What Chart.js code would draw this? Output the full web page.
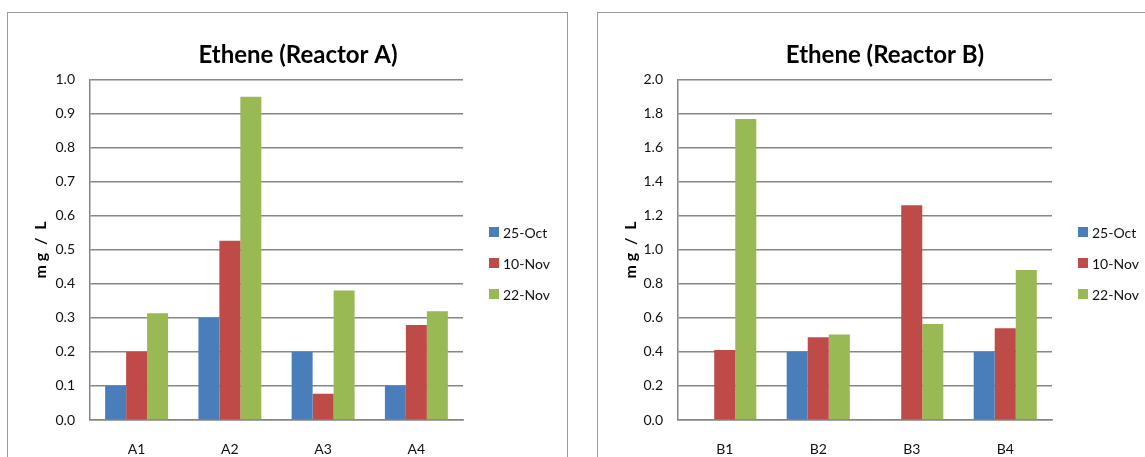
<!DOCTYPE html>
<html>
<head>
<meta charset="utf-8">
<title>Ethene</title>
<script src="https://cdn.jsdelivr.net/npm/chart.js@4.4.1/dist/chart.umd.min.js"></script>
<style>
  html, body { margin: 0; padding: 0; background: #fff; width: 1145px; height: 457px; overflow: hidden; }
  .frame { position: absolute; top: 12px; height: 470px; border: 1.5px solid #9a9a9a; box-sizing: border-box; }
  #frameA { left: 7px; width: 561px; }
  #frameB { left: 597px; width: 600px; }
  canvas { position: absolute; top: 0; }
  #chartA { left: 7px; }
  #chartB { left: 597px; }
</style>
</head>
<body>
<div class="frame" id="frameA"></div>
<div class="frame" id="frameB"></div>
<canvas id="chartA" width="582" height="457" style="width:582px;height:457px"></canvas>
<canvas id="chartB" width="576" height="457" style="width:576px;height:457px"></canvas>
<script>
// Sampling dates (series)
const sampleDates = ['25-Oct', '10-Nov', '22-Nov'];
const seriesColors = ['#4a7ebb', '#be4b48', '#98b954'];

// Reactor A: ethene, mg/L
const sitesA = ['A1', 'A2', 'A3', 'A4'];
const oct25A = [0.10, 0.30, 0.20, 0.10];
const nov10A = [0.20, 0.527, 0.077, 0.279];
const nov22A = [0.314, 0.95, 0.381, 0.32];

// Reactor B: ethene, mg/L (no 25-Oct reading at B1 and B3)
const sitesB = ['B1', 'B2', 'B3', 'B4'];
const oct25B = [null, 0.40, null, 0.40];
const nov10B = [0.412, 0.487, 1.262, 0.539];
const nov22B = [1.77, 0.502, 0.565, 0.882];

// Value axis ranges
const yMaxA = 1.0, yStepA = 0.1;
const yMaxB = 2.0, yStepB = 0.2;

const FONT = 'Lato, "Open Sans", "DejaVu Sans", sans-serif';
const TEXT = '#111';
const GRID = '#868686';

// Legend drawn to the right of the plot, stacked and centred a little low
const sideLegend = {
  id: 'sideLegend',
  afterDraw(chart, args, opts) {
    const { ctx, chartArea } = chart;
    const sets = chart.data.datasets;
    const mid = (chartArea.top + chartArea.bottom) / 2 + opts.shift;
    const x = chartArea.right + opts.gap;
    ctx.save();
    ctx.font = opts.font;
    ctx.textBaseline = 'middle';
    ctx.textAlign = 'left';
    sets.forEach((ds, i) => {
      const y = Math.round(mid + (i - (sets.length - 1) / 2) * opts.spacing);
      ctx.fillStyle = ds.backgroundColor;
      ctx.fillRect(x, y - opts.box / 2, opts.box, opts.box);
      ctx.fillStyle = opts.color;
      ctx.fillText(ds.label, x + opts.box + opts.textGap, y + 1);
    });
    ctx.restore();
  }
};

function drawReactor(id, title, sites, series, yMax, yStep, axisWidth, legendRoom) {
  return new Chart(document.getElementById(id), {
    type: 'bar',
    data: {
      labels: sites,
      datasets: series.map((vals, i) => ({
        label: sampleDates[i],
        data: vals,
        backgroundColor: seriesColors[i],
        borderWidth: 0,
        categoryPercentage: 0.675,
        barPercentage: 1.0
      }))
    },
    options: {
      responsive: false,
      animation: false,
      events: [],
      layout: { padding: 0 },
      plugins: {
        legend: { display: false },
        tooltip: { enabled: false },
        title: {
          display: true,
          text: title,
          color: '#000',
          font: { family: FONT, size: 24, weight: 'bold', lineHeight: 1.2 },
          padding: { top: 41, bottom: 10 }
        },
        sideLegend: {
          gap: 26, spacing: 31, shift: 13, box: 10, textGap: 4,
          font: '14px ' + FONT, color: TEXT
        }
      },
      scales: {
        x: {
          grid: { display: false, drawTicks: false },
          border: { display: true, color: GRID, width: 1.5 },
          ticks: { color: TEXT, font: { family: FONT, size: 14 }, padding: 21 },
          afterFit(s) { s.height = 37; }
        },
        y: {
          min: 0,
          max: yMax,
          grid: { color: GRID, lineWidth: 1.5, drawTicks: false },
          border: { display: true, color: GRID, width: 1.5 },
          ticks: {
            stepSize: yStep,
            color: TEXT,
            font: { family: FONT, size: 14 },
            padding: 15,
            callback: v => v.toFixed(1)
          },
          title: {
            display: true,
            text: 'm g  /  L',
            color: '#000',
            font: { family: FONT, size: 16, weight: 'bold', lineHeight: 1.2 },
            padding: { top: 24, bottom: 0 }
          },
          afterFit(s) { s.width = axisWidth; }
        },
        legendRoom: {
          type: 'linear',
          position: 'right',
          display: true,
          grid: { display: false, drawTicks: false },
          border: { display: false },
          ticks: { display: false },
          afterFit(s) { s.width = legendRoom; }
        }
      }
    },
    plugins: [sideLegend]
  });
}

drawReactor('chartA', 'Ethene (Reactor A)', sitesA, [oct25A, nov10A, nov22A], yMaxA, yStepA, 83, 126);
drawReactor('chartB', 'Ethene (Reactor B)', sitesB, [oct25B, nov10B, nov22B], yMaxB, yStepB, 81, 121);
</script>
</body>
</html>
